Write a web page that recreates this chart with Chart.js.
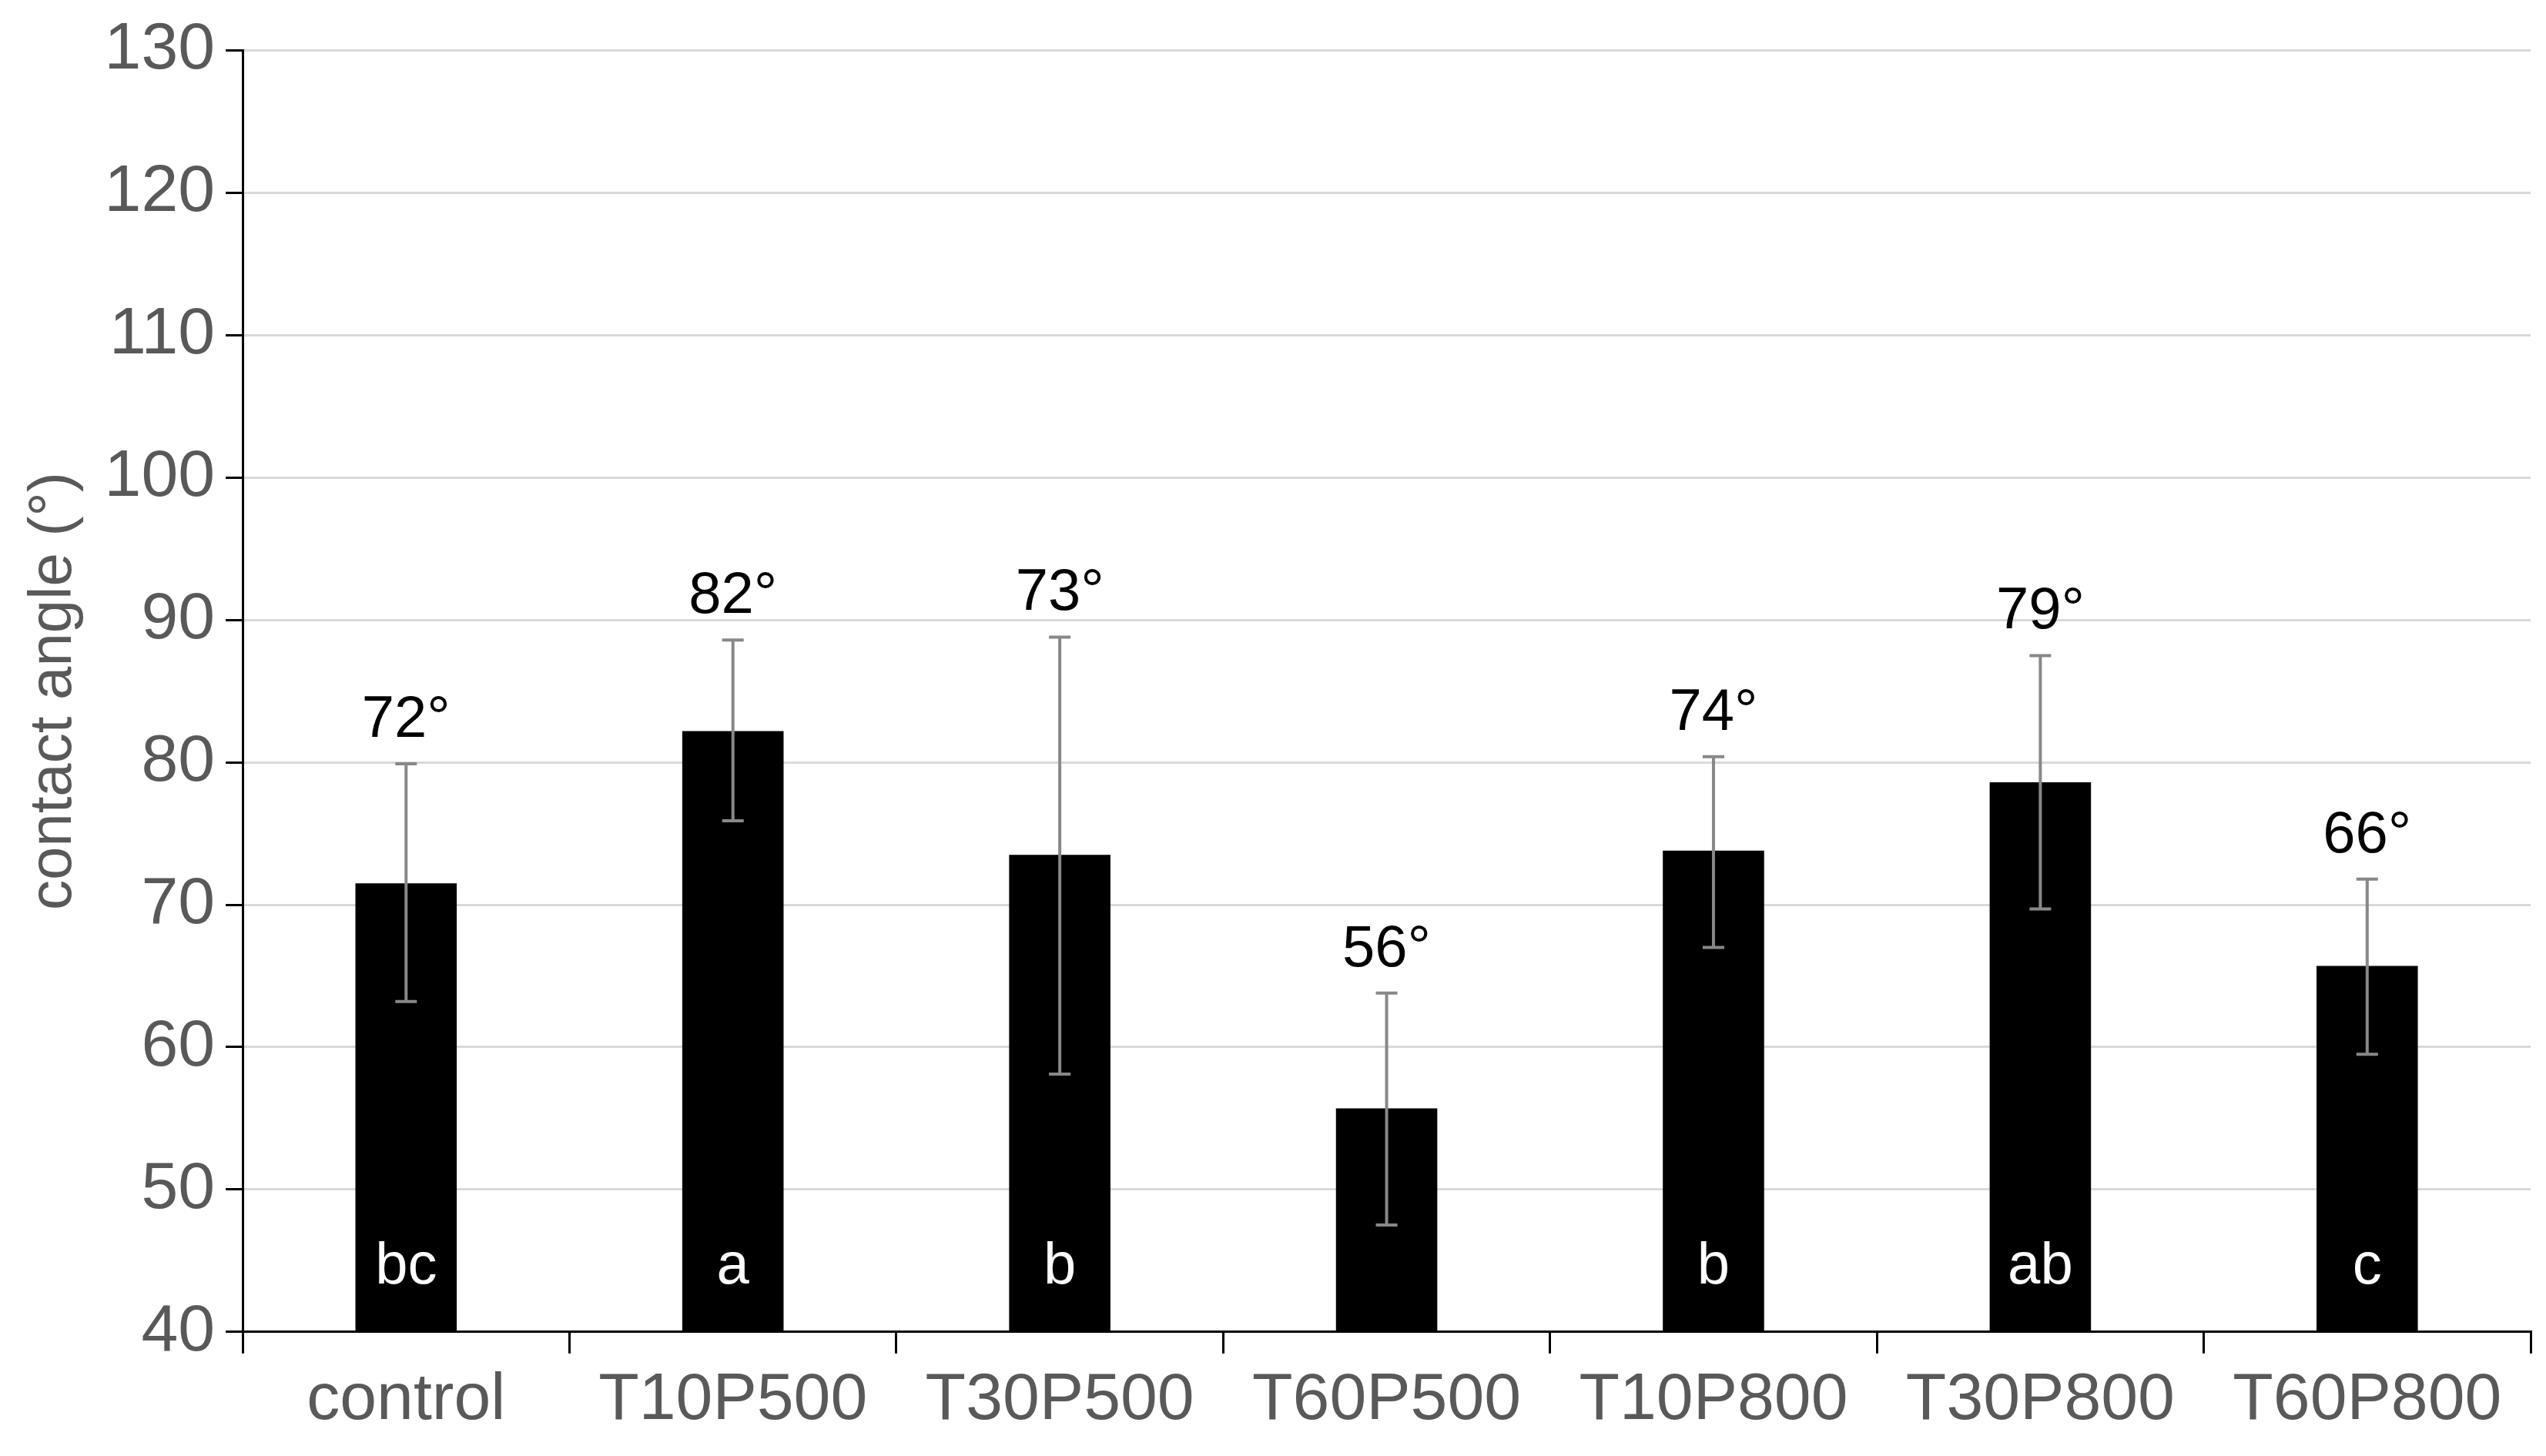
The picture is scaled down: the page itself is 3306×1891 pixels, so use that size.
<!DOCTYPE html>
<html><head><meta charset="utf-8">
<script src="https://cdn.jsdelivr.net/npm/chart.js@4"></script>
<style>html,body{margin:0;padding:0;background:#fff}#w{width:3306px;height:1891px}</style>
</head><body><div id="w"><canvas id="c"></canvas></div>
<script>
const categories=["control","T10P500","T30P500","T60P500","T10P800","T30P800","T60P800"];
const values=[71.5,82.2,73.5,55.7,73.8,78.6,65.7];
const errLow=[63.2,75.9,58.1,47.5,67.0,69.7,59.5];
const errHigh=[79.9,88.6,88.8,63.8,80.4,87.5,71.8];
const topLabels=["72°","82°","73°","56°","74°","79°","66°"];
const letters=["bc","a","b","","b","ab","c"];
const yTicks=[40,50,60,70,80,90,100,110,120,130];

const extras={id:'extras',afterDatasetsDraw(ch){
 const ctx=ch.ctx,y=ch.scales.y,meta=ch.getDatasetMeta(0);
 ctx.save();
 meta.data.forEach((b,i)=>{
  const x=b.x,yl=y.getPixelForValue(errLow[i]),yh=y.getPixelForValue(errHigh[i]);
  ctx.strokeStyle='#888';ctx.lineWidth=4;
  ctx.beginPath();ctx.moveTo(x,yl);ctx.lineTo(x,yh);
  ctx.moveTo(x-14,yl);ctx.lineTo(x+14,yl);ctx.moveTo(x-14,yh);ctx.lineTo(x+14,yh);ctx.stroke();
  ctx.fillStyle='#000';ctx.font='76px Arial, "Liberation Sans"';ctx.textAlign='center';ctx.textBaseline='bottom';
  ctx.fillText(topLabels[i],x,yh-18);
  ctx.fillStyle='#fff';ctx.textBaseline='middle';
  ctx.fillText(letters[i],x,y.getPixelForValue(40)-84);
 });
 ctx.restore();
}};

new Chart(document.getElementById('c'),{type:'bar',
 data:{labels:categories,datasets:[{data:values,backgroundColor:'#000',barPercentage:0.62,categoryPercentage:0.5}]},
 options:{responsive:true,maintainAspectRatio:false,animation:false,
  layout:{padding:{top:20,right:20,left:20,bottom:10}},
  plugins:{legend:{display:false},tooltip:{enabled:false}},
  scales:{
   x:{grid:{display:true,drawOnChartArea:false,offset:true,color:'#000',lineWidth:3,tickLength:28},
      border:{color:'#000',width:3},
      ticks:{color:'#595959',font:{size:86,family:'Arial, "Liberation Sans"'},padding:10}},
   y:{min:40,max:130,afterBuildTicks:a=>{a.ticks=yTicks.map(v=>({value:v}));},
      grid:{color:'#d9d9d9',lineWidth:3,tickLength:22,tickColor:'#000'},
      border:{color:'#000',width:3},
      ticks:{color:'#595959',font:{size:86,family:'Arial, "Liberation Sans"'},padding:14},
      title:{display:true,text:'contact angle (°)',color:'#595959',font:{size:78,family:'Arial, "Liberation Sans"'}}}
  }},
 plugins:[extras]});
</script></body></html>
